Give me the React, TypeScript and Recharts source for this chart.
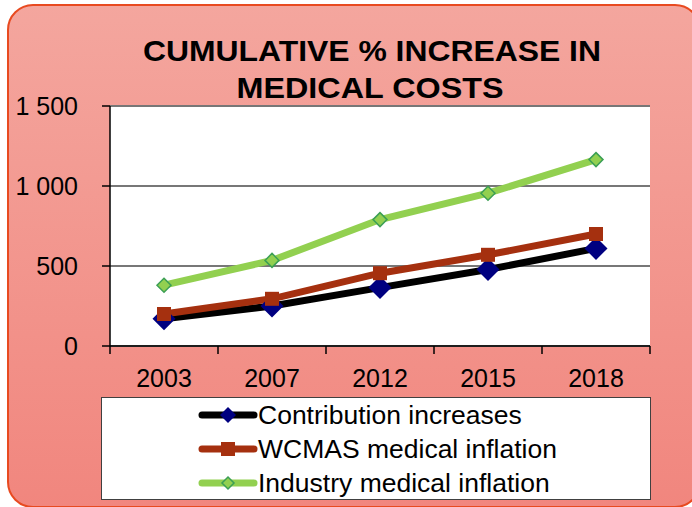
import React from 'react';
import { LineChart, Line, XAxis, YAxis, CartesianGrid, Legend } from 'recharts';

const YEARS = ['2003', '2007', '2012', '2015', '2018'];
const CONTRIBUTION = [170, 250, 365, 478, 610];
const WCMAS = [200, 295, 455, 570, 700];
const INDUSTRY = [380, 535, 790, 955, 1165];
const Y_TICKS = [0, 500, 1000, 1500];
const SERIES_NAMES = ['Contribution increases', 'WCMAS medical inflation', 'Industry medical inflation'];
const TITLE_LINES = ['CUMULATIVE % INCREASE IN', 'MEDICAL COSTS'];

const FONT = '"Liberation Sans", Arial, sans-serif';
const BAND = 108;

const data = YEARS.map((year, i) => ({
  year,
  contribution: CONTRIBUTION[i],
  wcmas: WCMAS[i],
  industry: INDUSTRY[i],
}));

const fmtY = (v: number) =>
  v >= 1000 ? `${Math.floor(v / 1000)} ${String(v % 1000).padStart(3, '0')}` : String(v);

const NavyDiamond = (props: any) => {
  const { cx, cy, index } = props;
  if (cx == null || cy == null) return <g key={`cd${index}`} />;
  const r = 11.5;
  return (
    <path
      key={`cd${index}`}
      d={`M${cx},${cy - r}L${cx + r},${cy}L${cx},${cy + r}L${cx - r},${cy}Z`}
      fill="#000080"
    />
  );
};

const RedSquare = (props: any) => {
  const { cx, cy, index } = props;
  if (cx == null || cy == null) return <g key={`ws${index}`} />;
  const s = 14;
  return <rect key={`ws${index}`} x={cx - s / 2} y={cy - s / 2} width={s} height={s} fill="#a5300f" />;
};

const GreenDiamond = (props: any) => {
  const { cx, cy, index } = props;
  if (cx == null || cy == null) return <g key={`gd${index}`} />;
  const r = 7;
  return (
    <path
      key={`gd${index}`}
      d={`M${cx},${cy - r}L${cx + r},${cy}L${cx},${cy + r}L${cx - r},${cy}Z`}
      fill="#92d050"
      stroke="#3c9f55"
      strokeWidth={1.5}
    />
  );
};

const XTick = (props: any) => {
  const { x, y, payload, index } = props;
  const axisY = y - 8 - 15;
  return (
    <g>
      <line x1={x - BAND / 2} x2={x - BAND / 2} y1={axisY} y2={axisY + 8} stroke="#000" strokeWidth={1.5} />
      {index === YEARS.length - 1 && (
        <line x1={x + BAND / 2} x2={x + BAND / 2} y1={axisY} y2={axisY + 8} stroke="#000" strokeWidth={1.5} />
      )}
      <text x={x} y={y} dy="0.71em" textAnchor="middle" fontSize={25} fontFamily={FONT} fill="#000">
        {payload.value}
      </text>
    </g>
  );
};

const LegendIcon = ({ kind }: { kind: number }) => (
  <svg width={60} height={24} style={{ display: 'block' }}>
    <line
      x1={4}
      x2={56}
      y1={12}
      y2={12}
      stroke={kind === 0 ? '#000' : kind === 1 ? '#a5300f' : '#92d050'}
      strokeWidth={7}
      strokeLinecap="round"
    />
    {kind === 0 && <path d="M30,4L38,12L30,20L22,12Z" fill="#000080" />}
    {kind === 1 && <rect x={23} y={5} width={14} height={14} fill="#a5300f" />}
    {kind === 2 && <path d="M30,6L36,12L30,18L24,12Z" fill="#92d050" stroke="#3c9f55" strokeWidth={1.5} />}
  </svg>
);

const renderLegend = () => (
  <div
    style={{
      width: 550,
      height: 103,
      border: '1.5px solid #404040',
      background: '#fff',
      boxSizing: 'border-box',
      position: 'relative',
      fontFamily: FONT,
    }}
  >
    {SERIES_NAMES.map((name, i) => (
      <div
        key={name}
        style={{
          position: 'absolute',
          left: 96,
          top: 17 + i * 34 - 16,
          height: 32,
          display: 'flex',
          alignItems: 'center',
          whiteSpace: 'nowrap',
        }}
      >
        <LegendIcon kind={i} />
        <span style={{ fontSize: 26.5, color: '#000', lineHeight: '32px', marginLeft: 0 }}>{name}</span>
      </div>
    ))}
  </div>
);

export default function App() {
  return (
    <div style={{ position: 'absolute', left: 0, top: 0, width: 692, height: 507, overflow: 'hidden' }}>
      <svg width={692} height={507} style={{ position: 'absolute', left: 0, top: 0 }}>
        <defs>
          <linearGradient id="bg" x1="0" y1="0" x2="0" y2="1">
            <stop offset="0%" stopColor="#f4a69e" />
            <stop offset="100%" stopColor="#f1867e" />
          </linearGradient>
        </defs>
        <rect x={8} y={5} width={692} height={502} rx={25} ry={25} fill="url(#bg)" stroke="#e84a20" strokeWidth={2} />
        <text
          x={372}
          y={61}
          textAnchor="middle"
          fontSize={30}
          fontWeight="bold"
          fontFamily={FONT}
          fill="#000"
          textLength={458}
          lengthAdjust="spacingAndGlyphs"
        >
          {TITLE_LINES[0]}
        </text>
        <text
          x={370}
          y={98}
          textAnchor="middle"
          fontSize={30}
          fontWeight="bold"
          fontFamily={FONT}
          fill="#000"
          textLength={267}
          lengthAdjust="spacingAndGlyphs"
        >
          {TITLE_LINES[1]}
        </text>
      </svg>
      <LineChart
        width={692}
        height={507}
        data={data}
        margin={{ top: 106, right: 42, bottom: 0, left: 0 }}
        style={{ position: 'absolute', left: 0, top: 0 }}
      >
        <CartesianGrid vertical={false} fill="#fff" stroke="#777" strokeWidth={2} />
        <XAxis
          dataKey="year"
          padding={{ left: BAND / 2, right: BAND / 2 }}
          axisLine={{ stroke: '#000', strokeWidth: 1.5 }}
          tickLine={{ stroke: 'none' }}
          tickSize={8}
          tickMargin={15}
          tick={<XTick />}
          interval={0}
          height={161}
        />
        <YAxis
          domain={[0, 1500]}
          ticks={Y_TICKS}
          tickFormatter={fmtY}
          width={110}
          axisLine={{ stroke: '#000', strokeWidth: 1.5 }}
          tickLine={{ stroke: '#000', strokeWidth: 1.5 }}
          tickSize={8}
          tickMargin={24}
          tick={{ fontSize: 25, fontFamily: FONT, fill: '#000' }}
          interval={0}
        />
        <YAxis
          yAxisId="right"
          orientation="right"
          width={0}
          tick={false}
          tickLine={false}
          axisLine={{ stroke: '#808080', strokeWidth: 2.5 }}
        />
        <Legend
          layout="vertical"
          align="center"
          verticalAlign="middle"
          content={renderLegend}
          wrapperStyle={{ left: 101, top: 397, width: 550, height: 103 }}
        />
        <Line
          type="linear"
          dataKey="contribution"
          name={SERIES_NAMES[0]}
          stroke="#000"
          strokeWidth={7}
          dot={NavyDiamond}
          activeDot={false}
          isAnimationActive={false}
        />
        <Line
          type="linear"
          dataKey="wcmas"
          name={SERIES_NAMES[1]}
          stroke="#a5300f"
          strokeWidth={7}
          dot={RedSquare}
          activeDot={false}
          isAnimationActive={false}
        />
        <Line
          type="linear"
          dataKey="industry"
          name={SERIES_NAMES[2]}
          stroke="#92d050"
          strokeWidth={7}
          dot={GreenDiamond}
          activeDot={false}
          isAnimationActive={false}
        />
      </LineChart>
    </div>
  );
}
